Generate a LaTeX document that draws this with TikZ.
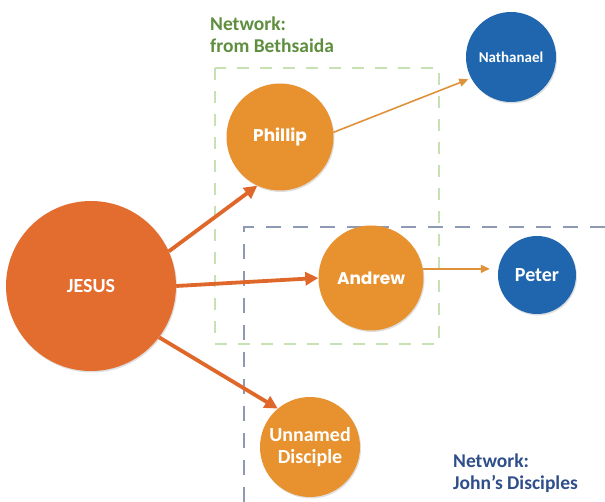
\documentclass[tikz,border=0pt]{standalone}
\usepackage{fontspec}
\setmainfont{Carlito}
\newfontfamily\popfont{Poppins}
\usetikzlibrary{arrows.meta,shadows}
\definecolor{jesusc}{HTML}{E36C2F}
\definecolor{orangec}{HTML}{E8922F}
\definecolor{bluec}{HTML}{1F66AE}
\definecolor{greenlab}{HTML}{5E8E3E}
\definecolor{greendash}{HTML}{C6E2B2}
\definecolor{bluedash}{HTML}{8E9AB3}
\definecolor{bluelab}{HTML}{2F4E8A}
\definecolor{thickarr}{HTML}{E0672A}
\definecolor{thinarr}{HTML}{E0923A}
\tikzset{
  person/.style={circle, inner sep=0pt, text=white, align=center,
    drop shadow={opacity=0.25, shadow xshift=1pt, shadow yshift=-1.5pt}},
  bigarrow/.style={draw=thickarr, line width=3.8pt,
    -{Triangle[length=13pt,width=13pt]}},
  smallarrow/.style={draw=thinarr, line width=1.6pt,
    -{Triangle[length=9pt,width=8pt]}},
  greenbox/.style={draw=greendash, line width=2.5pt, dash pattern=on 12pt off 11pt},
  bluebox/.style={draw=bluedash, line width=2.8pt, dash pattern=on 15pt off 12pt},
  netlabel/.style={anchor=north west, align=left, inner sep=0pt,
    font=\fontsize{19.5}{22}\selectfont\bfseries},
}
\begin{document}
\begin{tikzpicture}[x=1pt,y=-1pt]
\useasboundingbox[fill=white] (0,0) rectangle (605,502);
% network frames
\draw[greenbox] (215,68) rectangle (439,344);
\coordinate (bA) at (605,227);
\coordinate (bB) at (244,227);
\coordinate (bC) at (244,505);
\draw[bluebox] (bA) -- (bB) -- (bC);
% labels
\node[netlabel, text=greenlab] (lgreen) at (210,17) {Network:\\from Bethsaida};
\node[netlabel, text=bluelab] (lblue) at (453,454) {Network:\\John’s Disciples};
% nodes
\node[person, fill=jesusc, minimum size=170pt,
  font=\fontsize{20}{22}\selectfont\bfseries] (jesus) at (91,286) {JESUS};
\node[person, fill=orangec, minimum size=107pt,
  font=\popfont\fontsize{17}{20}\selectfont\bfseries] (phillip) at (280,137) {Phillip};
\node[person, fill=orangec, minimum size=105pt,
  font=\popfont\fontsize{17}{20}\selectfont\bfseries] (andrew) at (371,278) {Andrew};
\node[person, fill=orangec, minimum size=100pt,
  font=\fontsize{20}{22}\selectfont\bfseries] (unnamed) at (310,447) {Unnamed\\Disciple};
\node[person, fill=bluec, minimum size=90pt,
  font=\fontsize{15}{18}\selectfont\bfseries] (nathanael) at (511,57) {Nathanael};
\node[person, fill=bluec, minimum size=78pt,
  font=\fontsize{20}{22}\selectfont\bfseries] (peter) at (537,275) {Peter};
% connectors
\draw[bigarrow] (jesus.24) -- (phillip.245);
\draw[bigarrow] (jesus.east) -- (andrew.west);
\draw[bigarrow] (jesus.-37) -- (unnamed.130);
\draw[smallarrow, shorten >=3pt] (phillip.5) -- (nathanael.208);
\draw[smallarrow, shorten >=8pt] (andrew.10) -- (andrew.10 -| peter.west);
\end{tikzpicture}
\end{document}
